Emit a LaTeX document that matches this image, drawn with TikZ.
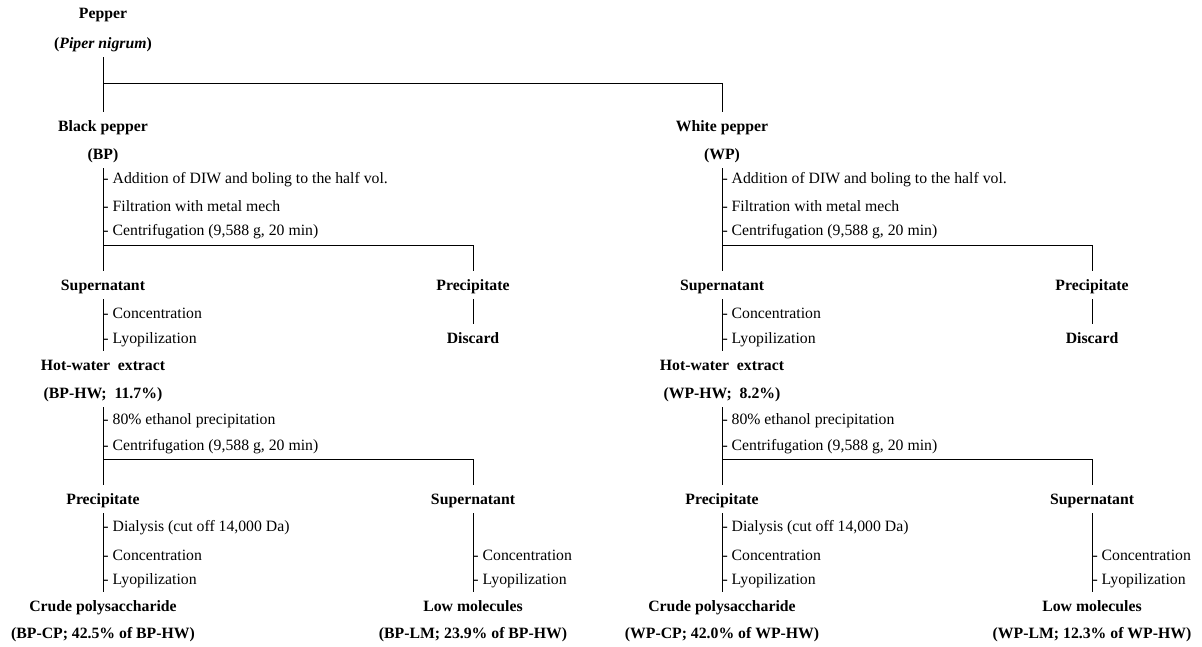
\documentclass[tikz,border=0pt]{standalone}
\usepackage{fontspec}
\setmainfont{Liberation Serif}
\usetikzlibrary{positioning}

\begin{document}
\begin{tikzpicture}[x=0.025cm,y=-0.025cm,line width=0.7pt,
    every node/.style={font=\fontsize{11.2}{13}\selectfont},
    head/.style={font=\fontsize{11.2}{13}\selectfont\bfseries,inner xsep=0pt,inner ysep=3pt,text height=8pt,text depth=2.5pt},
    stp/.style={anchor=west,inner sep=0pt},
    tree/.style={shorten >=3pt}]
  \useasboundingbox (0,0) rectangle (1202,646);
  \node[head] (pep) at (103,15) {Pepper};
  \node[head] (pn) at (103,45) {(\textit{Piper nigrum})};
  \coordinate (split) at (103,83);

  \foreach \x/\s/\nm/\hw/\cp/\lm [evaluate=\x as \xr using \x+370] in
      {103/BP/Black/11.7/42.5/23.9, 722/WP/White/8.2/42.0/12.3}{
    % whole pepper
    \node[head] (\s) at (\x,128) {\nm\ pepper};
    \node[head] (\s-ab) at (\x,156) {(\s)};
    \node[stp] (\s-s1) at (\x,180) {- Addition of DIW and boling to the half vol.};
    \node[stp] (\s-s2) at (\x,206) {- Filtration with metal mech};
    \node[stp] (\s-s3) at (\x,232) {- Centrifugation (9,588 g, 20 min)};
    \coordinate (\s-c1) at (\x,245);
    \node[head] (\s-sup) at (\x,287) {Supernatant};
    \node[head] (\s-pre) at (\xr,287) {Precipitate};
    \draw[tree] (\s-ab.south) -- (\s-sup.north);
    \draw[tree] (\s-c1) -| (\s-pre.north);
    % hot-water extract
    \node[stp] (\s-s4) at (\x,313) {- Concentration};
    \node[stp] (\s-s5) at (\x,340) {- Lyopilization};
    \node[head] (\s-dis) at (\xr,340) {Discard};
    \node[head] (\s-hw) at (\x,367) {Hot-water\ \ extract};
    \node[head] (\s-hwab) at (\x,395) {(\s-HW;\ \ \hw\%)};
    \draw[tree] (\s-sup.south) -- (\s-hw.north);
    \draw[tree] (\s-pre.south) -- (\s-dis.north);
    \node[stp] (\s-s6) at (\x,421) {- 80\% ethanol precipitation};
    \node[stp] (\s-s7) at (\x,447) {- Centrifugation (9,588 g, 20 min)};
    \coordinate (\s-c2) at (\x,459);
    \node[head] (\s-pre2) at (\x,501) {Precipitate};
    \node[head] (\s-sup2) at (\xr,501) {Supernatant};
    \draw[tree] (\s-hwab.south) -- (\s-pre2.north);
    \draw[tree] (\s-c2) -| (\s-sup2.north);
    % fractions
    \node[stp] (\s-s8) at (\x,528) {- Dialysis (cut off 14,000 Da)};
    \node[stp] (\s-s9) at (\x,555) {- Concentration};
    \node[stp] (\s-s10) at (\x,581) {- Lyopilization};
    \node[stp] (\s-s11) at (\xr,555) {- Concentration};
    \node[stp] (\s-s12) at (\xr,581) {- Lyopilization};
    \node[head] (\s-cp) at (\x,608) {Crude polysaccharide};
    \node[head] (\s-cpab) at (\x,635) {(\s-CP; \cp\% of \s-HW)};
    \node[head] (\s-lm) at (\xr,608) {Low molecules};
    \node[head] (\s-lmab) at (\xr,635) {(\s-LM; \lm\% of \s-HW)};
    \draw[tree] (\s-pre2.south) -- (\s-cp.north);
    \draw[tree] (\s-sup2.south) -- (\s-lm.north);
  }

  \draw[tree] (pn.south) -- (BP.north);
  \draw[tree] (split) -| (WP.north);
\end{tikzpicture}
\end{document}
